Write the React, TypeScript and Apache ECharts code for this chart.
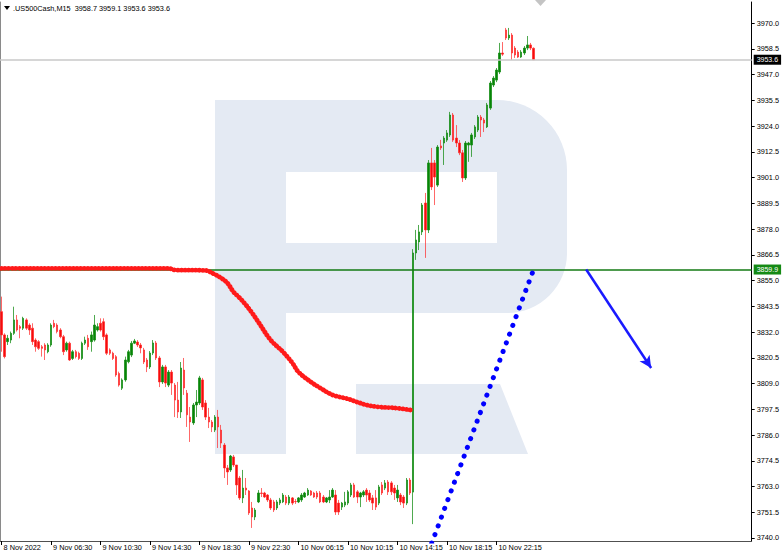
import React, { useEffect, useRef } from "react";
import * as echarts from "echarts";

// ---------- data ----------
const SYMBOL = ".US500Cash,M15";
const SLOT_COUNT = 243;
const TICK_EVERY = 16;
const timeLabels = [
  "8 Nov 2022", "9 Nov 06:30", "9 Nov 10:30", "9 Nov 14:30", "9 Nov 18:30",
  "9 Nov 22:30", "10 Nov 06:15", "10 Nov 10:15", "10 Nov 14:15", "10 Nov 18:15", "10 Nov 22:15",
];
const priceTicks = [
  3740.0, 3751.5, 3763.0, 3774.5, 3786.0, 3797.5, 3809.0, 3820.5, 3832.0, 3843.5, 3855.0,
  3866.5, 3878.0, 3889.5, 3901.0, 3912.5, 3924.0, 3935.5, 3947.0, 3958.5, 3970.0,
];
const Y_MIN = 3738.66;
const Y_MAX = 3979.38;

const opens = [
  3841.1, 3830.7, 3827.7, 3828.4, 3831.4, 3837.4, 3834.4, 3833.7, 3837.4, 3835.1,
  3833.7, 3828.4, 3827.7, 3825.4, 3826.2, 3823.2, 3826.2, 3835.9, 3835.1, 3832.9,
  3829.9, 3824.0, 3827.0, 3820.2, 3823.2, 3822.5, 3820.2, 3827.0, 3829.2, 3827.7,
  3828.4, 3832.9, 3835.9, 3836.6, 3830.7, 3824.0, 3822.5, 3821.0, 3813.5, 3806.9,
  3810.6, 3818.7, 3821.7, 3827.0, 3827.5, 3826.2, 3824.0, 3819.5, 3816.4, 3822.6,
  3827.1, 3820.4, 3809.7, 3816.4, 3808.3, 3814.1, 3808.3, 3801.6, 3796.3, 3815.0,
  3804.7, 3794.0, 3791.4, 3799.4, 3800.3, 3810.6, 3800.3, 3794.0, 3791.8, 3788.2,
  3794.0, 3788.2, 3781.5, 3771.3, 3770.4, 3776.2, 3772.6, 3766.8, 3757.9, 3762.3,
  3761.0, 3753.4, 3749.4, 3756.1, 3760.1, 3760.1, 3759.2, 3757.0, 3756.1, 3753.4,
  3755.6, 3756.1, 3758.3, 3755.6, 3757.9, 3756.3, 3756.1, 3757.0, 3758.3, 3759.2,
  3761.0, 3760.1, 3760.1, 3760.1, 3758.3, 3756.1, 3757.0, 3758.3, 3759.2, 3755.6,
  3753.8, 3754.7, 3755.6, 3759.2, 3763.7, 3760.6, 3758.3, 3759.2, 3761.4, 3760.1,
  3757.9, 3757.9, 3755.6, 3763.7, 3762.3, 3765.0, 3764.6, 3762.3, 3757.9, 3759.2,
  3758.3, 3755.6, 3765.9, 3760.5, 3867.3, 3872.2, 3876.7, 3889.6, 3877.6, 3907.5,
  3907.5, 3897.6, 3915.1, 3916.4, 3917.7, 3920.0, 3928.9, 3918.6, 3916.4, 3912.0,
  3900.8, 3915.5, 3915.5, 3919.1, 3922.2, 3928.0, 3926.7, 3923.6, 3932.0, 3942.3,
  3944.5, 3948.1, 3956.6, 3966.9, 3963.3, 3964.6, 3958.8, 3957.0, 3954.8, 3956.6,
  3958.8, 3960.2, 3958.7,
];
const closes = [
  3830.7, 3821.0, 3829.2, 3831.4, 3837.4, 3832.9, 3833.7, 3838.1, 3833.7, 3832.9,
  3827.7, 3825.4, 3824.7, 3824.7, 3824.0, 3826.2, 3835.1, 3834.4, 3832.2, 3829.9,
  3823.2, 3827.0, 3819.5, 3823.2, 3821.0, 3820.2, 3827.0, 3828.4, 3825.4, 3830.7,
  3835.1, 3834.4, 3832.9, 3829.9, 3822.5, 3822.5, 3820.2, 3812.8, 3808.3, 3810.6,
  3819.5, 3823.2, 3827.0, 3828.0, 3826.2, 3824.9, 3818.6, 3816.4, 3822.6, 3827.1,
  3820.4, 3809.7, 3816.4, 3809.2, 3814.1, 3809.2, 3801.6, 3796.3, 3815.9, 3807.0,
  3795.0, 3791.8, 3799.4, 3800.7, 3811.5, 3798.5, 3794.0, 3791.8, 3789.6, 3794.0,
  3789.6, 3782.4, 3771.3, 3769.5, 3776.6, 3772.6, 3763.7, 3757.9, 3762.3, 3761.4,
  3751.2, 3749.4, 3752.5, 3760.1, 3759.9, 3758.3, 3757.0, 3753.4, 3752.5, 3756.1,
  3757.0, 3759.2, 3755.6, 3758.3, 3755.6, 3756.2, 3757.9, 3759.2, 3760.1, 3761.4,
  3759.2, 3758.3, 3758.3, 3756.1, 3756.1, 3757.9, 3758.3, 3761.4, 3751.6, 3751.6,
  3755.6, 3756.1, 3760.6, 3763.7, 3758.3, 3758.3, 3760.1, 3760.6, 3759.2, 3757.0,
  3755.6, 3753.8, 3762.8, 3760.1, 3764.6, 3760.6, 3760.6, 3760.1, 3761.4, 3756.1,
  3755.6, 3765.9, 3760.1, 3867.3, 3873.1, 3876.7, 3888.7, 3877.6, 3907.5, 3896.8,
  3901.2, 3914.6, 3914.2, 3918.6, 3920.9, 3928.9, 3917.7, 3916.4, 3912.0, 3900.8,
  3916.4, 3916.4, 3920.0, 3923.6, 3928.0, 3926.7, 3925.3, 3933.4, 3943.2, 3945.4,
  3949.0, 3956.6, 3956.1, 3963.3, 3964.6, 3956.6, 3955.7, 3954.8, 3957.0, 3958.8,
  3960.2, 3958.8, 3953.6,
];
const lows = [
  3823.2, 3820.2, 3826.2, 3827.0, 3830.7, 3832.2, 3829.2, 3832.9, 3832.9, 3830.7,
  3826.2, 3823.2, 3824.0, 3821.0, 3819.5, 3822.5, 3825.4, 3833.7, 3831.4, 3829.2,
  3821.7, 3823.2, 3819.1, 3819.5, 3820.2, 3819.5, 3819.5, 3826.2, 3824.0, 3823.2,
  3827.7, 3832.2, 3832.2, 3828.4, 3821.7, 3821.7, 3819.5, 3812.0, 3807.6, 3806.1,
  3809.8, 3818.0, 3820.8, 3826.6, 3825.3, 3822.5, 3817.7, 3814.1, 3815.5, 3821.7,
  3819.5, 3807.4, 3808.8, 3807.4, 3807.4, 3803.9, 3794.0, 3793.6, 3793.6, 3803.9,
  3789.6, 3782.9, 3790.5, 3794.0, 3799.4, 3797.2, 3792.7, 3789.1, 3787.3, 3787.3,
  3780.2, 3780.2, 3766.8, 3763.7, 3769.5, 3771.7, 3759.2, 3757.0, 3755.6, 3759.2,
  3750.3, 3744.5, 3748.0, 3755.6, 3758.3, 3757.9, 3756.1, 3752.5, 3751.6, 3752.5,
  3754.7, 3755.6, 3754.7, 3754.7, 3754.7, 3755.2, 3755.6, 3756.1, 3757.9, 3758.8,
  3758.8, 3757.9, 3757.4, 3755.6, 3755.6, 3755.6, 3755.6, 3757.9, 3750.3, 3750.3,
  3752.5, 3753.8, 3754.7, 3758.3, 3757.9, 3755.6, 3753.8, 3758.3, 3756.1, 3756.1,
  3752.5, 3752.5, 3754.7, 3759.2, 3761.4, 3759.2, 3759.2, 3757.0, 3756.1, 3754.7,
  3753.4, 3754.7, 3759.2, 3746.2, 3864.2, 3868.6, 3875.3, 3865.1, 3876.2, 3895.4,
  3888.7, 3896.8, 3913.3, 3906.6, 3916.9, 3919.1, 3916.9, 3914.6, 3911.0, 3899.0,
  3899.9, 3908.0, 3910.2, 3918.2, 3921.3, 3919.1, 3921.3, 3923.1, 3931.2, 3941.4,
  3943.6, 3947.2, 3955.3, 3962.4, 3962.4, 3953.5, 3954.4, 3954.4, 3954.4, 3955.7,
  3957.9, 3957.9, 3953.6,
];
const highs = [
  3847.8, 3831.4, 3830.7, 3832.2, 3843.3, 3839.6, 3835.1, 3838.8, 3838.1, 3835.9,
  3835.9, 3829.2, 3828.4, 3826.2, 3827.0, 3827.0, 3835.9, 3837.4, 3835.9, 3833.7,
  3830.7, 3827.7, 3827.7, 3824.0, 3824.0, 3823.2, 3827.7, 3829.9, 3830.7, 3832.2,
  3839.6, 3835.9, 3838.1, 3838.1, 3831.4, 3824.7, 3823.2, 3821.7, 3814.3, 3811.3,
  3821.0, 3824.0, 3828.0, 3828.9, 3828.4, 3827.1, 3824.9, 3820.4, 3823.5, 3828.4,
  3828.0, 3821.3, 3817.3, 3817.3, 3815.0, 3815.0, 3809.2, 3809.7, 3818.6, 3820.4,
  3806.1, 3798.5, 3800.3, 3806.1, 3812.4, 3811.5, 3801.6, 3798.1, 3792.7, 3794.9,
  3797.2, 3790.5, 3782.4, 3772.6, 3777.1, 3777.1, 3772.6, 3767.7, 3770.4, 3766.8,
  3761.4, 3756.1, 3753.4, 3761.4, 3762.3, 3760.6, 3759.6, 3757.9, 3757.0, 3757.0,
  3757.9, 3760.1, 3759.2, 3759.2, 3758.3, 3757.4, 3758.3, 3760.1, 3760.6, 3762.3,
  3761.4, 3760.6, 3761.0, 3761.0, 3759.2, 3758.3, 3761.4, 3762.3, 3761.4, 3757.0,
  3756.1, 3760.6, 3761.4, 3764.6, 3764.6, 3761.4, 3760.6, 3761.4, 3762.3, 3761.4,
  3759.2, 3761.4, 3763.7, 3765.0, 3765.9, 3765.9, 3765.4, 3763.7, 3763.7, 3760.1,
  3759.2, 3766.8, 3766.8, 3869.0, 3877.6, 3879.8, 3889.6, 3894.1, 3908.8, 3914.2,
  3908.8, 3915.5, 3917.8, 3919.5, 3922.2, 3930.3, 3929.8, 3924.4, 3917.7, 3913.3,
  3917.3, 3916.9, 3920.9, 3924.4, 3928.9, 3928.9, 3927.6, 3934.3, 3944.1, 3946.3,
  3949.9, 3961.1, 3961.5, 3967.8, 3967.8, 3965.5, 3959.7, 3957.9, 3957.9, 3959.7,
  3964.2, 3961.1, 3959.1,
];

// moving average, read at bar indices
const maIndex = [0, 54, 56, 66, 68, 71, 73, 75, 77, 79, 81, 83, 87, 91, 94, 96, 100, 103, 107, 112, 115, 118, 122, 127, 133];
const maValue = [
  3860.4, 3860.4, 3859.7, 3859.5, 3858.4, 3856.1, 3853.9, 3849.9, 3847.2, 3844.1,
  3840.5, 3836.5, 3828.4, 3823.1, 3818.2, 3814.1, 3809.7, 3807.0, 3803.9, 3802.1,
  3800.7, 3799.4, 3798.5, 3798.1, 3797.0,
];

// forecast dotted line and arrow
const trendIndex = [138, 172];
const trendValue = [3733.75, 3859.9];
const arrowIndex = [189, 210];
const arrowValue = [3859.9, 3815.9];

const LEVEL_PRICE = 3859.9;
const LAST_PRICE = 3953.6;

// ---------- component ----------
export default function App() {
  const ref = useRef<HTMLDivElement>(null);

  useEffect(() => {
    if (!ref.current) return;
    const chart = echarts.init(ref.current, undefined, { renderer: "svg" });

    const categories = Array.from({ length: SLOT_COUNT }, (_, i) => String(i));
    const showTick = (index: number) =>
      index % TICK_EVERY === 0 && index / TICK_EVERY < timeLabels.length;

    const candles = opens.map((o, i) => [o, closes[i], lows[i], highs[i]]);
    const maData = maIndex.map((x, i) => [x, maValue[i]]);
    const trendData = trendIndex.map((x, i) => [x, trendValue[i]]);

    const last = opens.length - 1;
    const header = `${SYMBOL}  ${opens[last].toFixed(1)} ${highs[last].toFixed(1)} ${lows[last].toFixed(1)} ${closes[last].toFixed(1)}`;

    const wm = "#e4eaf3";
    const font = "Liberation Sans";

    const option: any = {
      animation: false,
      backgroundColor: "#ffffff",
      textStyle: { fontFamily: font },
      grid: { left: 0, right: 30, top: 2, bottom: 16 },
      xAxis: {
        type: "category",
        data: categories,
        boundaryGap: true,
        axisLine: { show: true, lineStyle: { color: "#505050", width: 1 } },
        axisTick: {
          show: true,
          alignWithLabel: true,
          interval: (i: number) => showTick(i),
          length: 4,
          lineStyle: { color: "#000" },
        },
        axisLabel: {
          show: true,
          interval: (i: number) => showTick(i),
          formatter: (_v: string, i: number) => timeLabels[i / TICK_EVERY] ?? "",
          align: "left",
          margin: 3,
          padding: [0, 0, 0, 2],
          fontSize: 7.3,
          fontFamily: font,
          color: "#000",
        },
        splitLine: { show: false },
      },
      yAxis: [
        {
          type: "value",
          position: "right",
          min: Y_MIN,
          max: Y_MAX,
          axisLine: { show: true, lineStyle: { color: "#000", width: 1 } },
          axisTick: { show: true, customValues: priceTicks, length: 3, lineStyle: { color: "#000" } },
          axisLabel: {
            show: true,
            customValues: priceTicks,
            formatter: (v: number) => v.toFixed(1),
            fontSize: 7.3,
            fontFamily: font,
            color: "#000",
            margin: 5,
          },
          splitLine: { show: false },
        },
        {
          type: "value",
          position: "left",
          min: Y_MIN,
          max: Y_MAX,
          axisLine: { show: true, lineStyle: { color: "#8a8a8a", width: 1 } },
          axisTick: { show: false },
          axisLabel: { show: false },
          splitLine: { show: false },
        },
      ],
      graphic: [
        // watermark logo
        { type: "rect", z: 0, shape: { x: 215, y: 100, width: 352, height: 213, r: [0, 70, 60, 0] }, style: { fill: wm } },
        { type: "rect", z: 0, shape: { x: 286, y: 172, width: 211, height: 71 }, style: { fill: "#ffffff" } },
        { type: "rect", z: 0, shape: { x: 215, y: 100, width: 71, height: 354 }, style: { fill: wm } },
        { type: "polygon", z: 0, shape: { points: [[356, 384], [500, 384], [528, 454], [356, 454]] }, style: { fill: wm } },
        // header
        { type: "polygon", z: 10, shape: { points: [[4, 6], [10, 6], [7, 10]] }, style: { fill: "#000" } },
        {
          type: "text", z: 10, x: 13, y: 8,
          style: { text: header, fontSize: 7.3, fontFamily: font, fill: "#000", verticalAlign: "middle" },
        },
        // chart shift marker
        { type: "polygon", z: 10, shape: { points: [[535, 0], [546, 0], [540.5, 6]] }, style: { fill: "#c4c4c4" } },
      ],
      series: [
        {
          type: "candlestick",
          name: "price",
          data: candles,
          barWidth: 2,
          z: 3,
          silent: true,
          itemStyle: {
            color: "#068506",
            color0: "#f50c0c",
            borderColor: "rgba(20,140,20,0.75)",
            borderColor0: "rgba(255,40,40,0.7)",
            borderWidth: 1,
          },
          markLine: {
            silent: true,
            symbol: ["none", "none"],
            animation: false,
            data: [
              {
                yAxis: LAST_PRICE,
                lineStyle: { color: "#c9c9c9", width: 1.5, type: "solid" },
                label: {
                  show: true, position: "end", distance: 2,
                  formatter: LAST_PRICE.toFixed(1),
                  backgroundColor: "#000", color: "#fff", padding: [2, 3, 1, 3],
                  fontSize: 7, fontFamily: font,
                },
              },
              {
                yAxis: LEVEL_PRICE,
                lineStyle: { color: "#137a13", width: 1.5, type: "solid" },
                label: {
                  show: true, position: "end", distance: 2,
                  formatter: LEVEL_PRICE.toFixed(1),
                  backgroundColor: "#158a15", color: "#fff", padding: [2, 3, 1, 3],
                  fontSize: 7, fontFamily: font,
                },
              },
            ],
          },
        },
        {
          type: "line",
          name: "ma",
          data: maData,
          smooth: 0.35,
          showSymbol: false,
          silent: true,
          z: 6,
          lineStyle: { color: "#ff1a1a", width: 4.8, type: [0.1, 3.5], cap: "round" },
        },
        {
          type: "line",
          name: "trend",
          data: trendData,
          showSymbol: false,
          silent: true,
          z: 6,
          lineStyle: { color: "#0000ff", width: 5, type: [0.1, 9.2], cap: "round" },
          markLine: {
            silent: true,
            animation: false,
            symbol: ["none", "arrow"],
            symbolSize: [9, 12],
            label: { show: false },
            lineStyle: { color: "#1a1aff", width: 2.5, type: "solid" },
            data: [
              [
                { coord: [arrowIndex[0], arrowValue[0]] },
                { coord: [arrowIndex[1], arrowValue[1]] },
              ],
            ],
          },
        },
      ],
    };

    chart.setOption(option);
    return () => chart.dispose();
  }, []);

  return (
    <div
      ref={ref}
      style={{ position: "fixed", left: 0, top: 0, width: 782, height: 557, background: "#fff" }}
    />
  );
}
